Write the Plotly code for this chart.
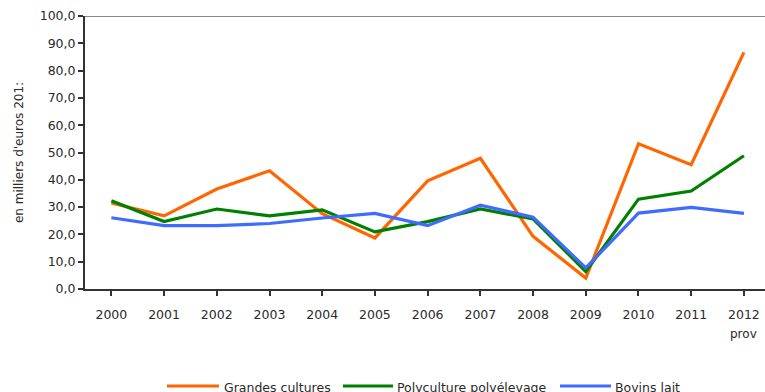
import plotly.graph_objects as go

# Revenu par exploitation, en milliers d'euros 2012
years = ["2000", "2001", "2002", "2003", "2004", "2005", "2006",
         "2007", "2008", "2009", "2010", "2011", "2012"]
provisional_note = "prov"

grandes_cultures = [31.5, 26.8, 36.6, 43.3, 27.6, 18.7, 39.6,
                    47.9, 19.3, 4.0, 53.2, 45.5, 86.7]
polyculture = [32.3, 24.7, 29.3, 26.8, 29.0, 20.9, 24.7,
               29.3, 25.7, 6.4, 32.9, 35.9, 48.8]
bovins_lait = [26.1, 23.2, 23.2, 24.0, 26.0, 27.7, 23.2,
               30.7, 26.3, 7.7, 27.8, 29.9, 27.7]

series_names = ["Grandes cultures", "Polyculture polyélevage", "Bovins lait"]
series_colors = ["#FF6600", "#008000", "#3F6BFF"]

y_tickvals = [0, 10, 20, 30, 40, 50, 60, 70, 80, 90, 100]
y_ticktext = ["0,0", "10,0", "20,0", "30,0", "40,0", "50,0", "60,0",
              "70,0", "80,0", "90,0", "100,0"]

FONT = "DejaVu Sans"
TXT = "#2a2a2a"
W, H = 765, 392
ML, MR, MT, MB = 85, 0, 16, 103
PW, PH = W - ML - MR, H - MT - MB

fig = go.Figure()
for name, vals, col in zip(series_names,
                           [grandes_cultures, polyculture, bovins_lait],
                           series_colors):
    fig.add_trace(go.Scatter(
        x=list(range(len(years))), y=vals, mode="lines", name=name,
        line=dict(color=col, width=3.2), showlegend=False,
    ))

# top border of the plotting area
fig.add_shape(type="line", xref="paper", yref="y", x0=0, x1=1, y0=100, y1=100,
              line=dict(color="#8a8a8a", width=2), layer="below")


def px_x(p):
    return (p - ML) / PW


def px_y(p):
    return (MT + PH - p) / PH


# "prov" flag under the last year
fig.add_annotation(xref="x", yref="paper", x=len(years) - 1, y=px_y(334),
                   text=provisional_note, showarrow=False,
                   xanchor="center", yanchor="middle",
                   font=dict(family=FONT, size=12, color=TXT))

# hand-built legend along the bottom
legend_y = 386
legend_items = [(167, 219, 222), (343, 393, 395), (560, 611, 613)]
for (x0, x1, xt), name, col in zip(legend_items, series_names, series_colors):
    fig.add_shape(type="line", xref="paper", yref="paper",
                  x0=px_x(x0), x1=px_x(x1), y0=px_y(legend_y), y1=px_y(legend_y),
                  line=dict(color=col, width=3.2))
    fig.add_annotation(xref="paper", yref="paper", x=px_x(xt), y=px_y(legend_y + 1),
                       text=name, showarrow=False, xanchor="left", yanchor="middle",
                       font=dict(family=FONT, size=12.5, color=TXT))

fig.update_layout(
    width=W, height=H,
    margin=dict(l=ML, r=MR, t=MT, b=MB, pad=0),
    paper_bgcolor="white", plot_bgcolor="white",
    font=dict(family=FONT, size=12, color=TXT),
    showlegend=False,
)
fig.update_xaxes(
    range=[-0.5, 12.4],
    tickvals=list(range(len(years))), ticktext=years,
    tickson="boundaries", ticks="outside", ticklen=5, tickwidth=1.5,
    tickcolor="#333333", ticklabelstandoff=8,
    showline=True, linecolor="#333333", linewidth=2,
    showgrid=False, zeroline=False,
    tickfont=dict(family=FONT, size=12.5, color=TXT),
)
fig.update_yaxes(
    range=[0, 100],
    tickvals=y_tickvals, ticktext=y_ticktext,
    ticks="outside", ticklen=5, tickwidth=1.5, tickcolor="#333333",
    showline=True, linecolor="#333333", linewidth=2,
    showgrid=False, zeroline=False,
    tickfont=dict(family=FONT, size=12.5, color=TXT),
    title=dict(text="en milliers d'euros 201:", standoff=14,
               font=dict(family=FONT, size=12, color=TXT)),
)

fig.write_html("out.html")
